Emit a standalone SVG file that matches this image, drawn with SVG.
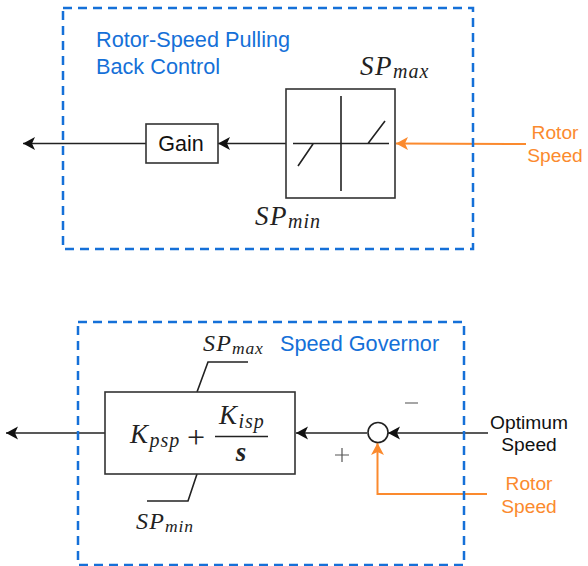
<svg xmlns="http://www.w3.org/2000/svg" width="588" height="566" viewBox="0 0 588 566">
<style>
.dash{fill:none;stroke:#1570d8;stroke-width:2.5;stroke-dasharray:9 6}
.box{fill:#fff;stroke:#333;stroke-width:1.6}
.ln{fill:none;stroke:#222;stroke-width:1.6}
.or{fill:none;stroke:#fb8a2e;stroke-width:2}
.sans{font-family:"Liberation Sans",Arial,sans-serif}
.blue{font-size:21.7px;fill:#1570d8}
.lab{font-size:19.2px;text-anchor:middle}
.math{font-family:"Liberation Serif","Times New Roman",serif;font-style:italic;fill:#222}
.m{font-size:27px;letter-spacing:1.5px}.s{font-size:20px;letter-spacing:1px}
.m2{font-size:24px;letter-spacing:1.2px}.s2{font-size:17.5px;letter-spacing:.8px}
</style>
<defs>
<marker id="ak" markerUnits="userSpaceOnUse" markerWidth="14" markerHeight="14" refX="12" refY="6.500" orient="auto"><path d="M0 0L12 6.500L0 13L3 6.500Z" fill="#111"/></marker>
<marker id="ao" markerUnits="userSpaceOnUse" markerWidth="14" markerHeight="14" refX="12" refY="6.500" orient="auto"><path d="M0 0L12 6.500L0 13L3 6.500Z" fill="#fb8a2e"/></marker>
</defs>
<g id="connectors">
<path class="ln" d="M286 143.500H218" marker-end="url(#ak)"/>
<path class="ln" d="M146 143.500H23" marker-end="url(#ak)"/>
<path class="or" d="M526 144L396 143.500" marker-end="url(#ao)"/>
<path class="ln" d="M197 392L208 362H248"/>
<path class="ln" d="M197 474L188 501H147"/>
<path class="ln" d="M367 433H296" marker-end="url(#ak)"/>
<path class="ln" d="M105 433H6" marker-end="url(#ak)"/>
<path class="ln" d="M488 433H388" marker-end="url(#ak)"/>
<path class="or" d="M487 494H377.500V443" marker-end="url(#ao)"/>
</g>
<g id="pulling-frame"><rect class="dash" x="63" y="8" width="410" height="241"/>
<text class="sans blue" x="96" y="47">Rotor-Speed Pulling</text><text class="sans blue" x="96" y="74">Back Control</text></g>
<g id="limiter"><rect class="box" x="286" y="89" width="109" height="109"/>
<path class="ln" d="M341 96V191M293 143.500H389M298 166L313 144M368 143.500L385 121"/></g>
<g id="gain"><rect class="box" x="146" y="124" width="72" height="39"/><text class="sans" x="181" y="151" font-size="21.500" text-anchor="middle" fill="#111">Gain</text></g>
<g id="sp-max-top"><text class="math" x="360" y="75"><tspan class="m">SP</tspan><tspan class="s" dy="3">max</tspan></text></g>
<g id="sp-min-top"><text class="math" x="255" y="225"><tspan class="m">SP</tspan><tspan class="s" dy="3">min</tspan></text></g>
<g id="rotor-top"><text class="sans lab" x="555" y="139" fill="#fb8a2e">Rotor</text><text class="sans lab" x="555" y="162" fill="#fb8a2e">Speed</text></g>
<g id="governor-frame"><rect class="dash" x="78" y="322" width="386" height="243"/>
<text class="sans blue" x="280" y="351">Speed Governor</text></g>
<g id="pi"><rect class="box" x="105" y="392" width="190" height="82"/>
<text class="math" x="130" y="443"><tspan class="m">K</tspan><tspan class="s" dy="4">psp</tspan></text>
<text x="196" y="448" font-family="Liberation Serif,serif" font-size="32" text-anchor="middle" fill="#222">+</text>
<text class="math" x="219" y="424"><tspan class="m">K</tspan><tspan class="s" dy="4">isp</tspan></text>
<path class="ln" d="M215 436.500H268"/>
<text class="math" x="241" y="461" font-size="27" font-weight="bold" text-anchor="middle">s</text></g>
<g id="sp-max-bot"><text class="math" x="203" y="351"><tspan class="m2">SP</tspan><tspan class="s2" dy="3">max</tspan></text></g>
<g id="sp-min-bot"><text class="math" x="136" y="529"><tspan class="m2">SP</tspan><tspan class="s2" dy="3">min</tspan></text></g>
<g id="sum"><circle cx="378" cy="432.500" r="10" fill="#fff" stroke="#222" stroke-width="1.600"/>
<path d="M405 403H418" stroke="#888" stroke-width="1.500"/>
<path d="M335 455H349M342 448V462" stroke="#555" stroke-width="1.200"/></g>
<g id="optimum"><text class="sans lab" x="529" y="429" fill="#111">Optimum</text><text class="sans lab" x="529" y="451" fill="#111">Speed</text></g>
<g id="rotor-bot"><text class="sans lab" x="529" y="490" fill="#fb8a2e">Rotor</text><text class="sans lab" x="529" y="513" fill="#fb8a2e">Speed</text></g>
</svg>
